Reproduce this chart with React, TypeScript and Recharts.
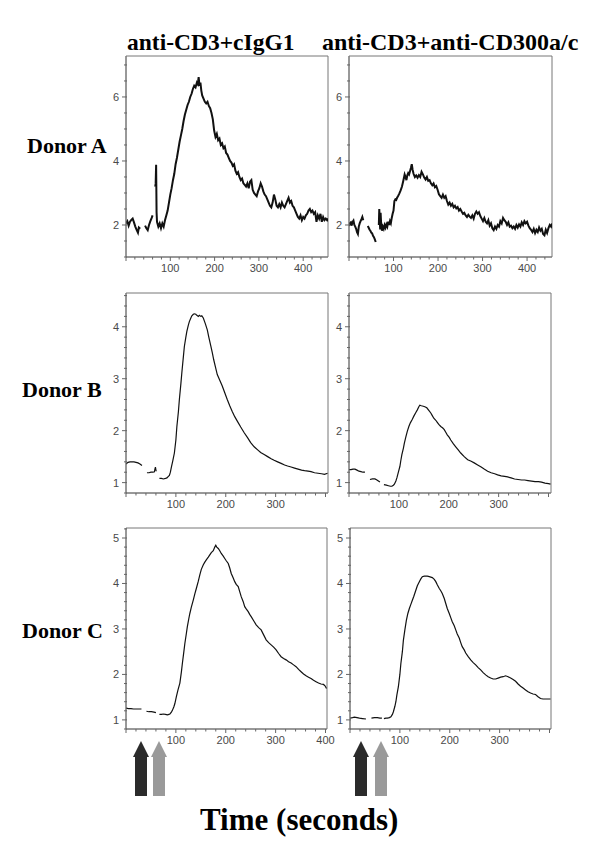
import React from "react";
import { LineChart, Line, XAxis, YAxis, ReferenceArea } from "recharts";

type Pt = [number, number | null];

// ---------- data (time in seconds, ratio values) ----------
const donorALeft: Pt[] = [
  [0,2.05],[3,2.12],[6,1.98],[9,2.1],[12,2.16],[15,2.2],[18,2.08],[21,1.95],[24,1.85],[27,1.76],[29,1.92],[32,1.88],[33,null],
  [43,1.98],[46,1.9],[49,1.84],[52,2.0],[55,2.12],[58,2.22],[60,2.3],[61,null],
  [66,3.2],[67,3.3],[68,3.88],[69,2.4],[70,2.1],[73,1.95],[76,2.05],[79,1.9],[82,2.05],[85,1.95],[88,2.15],[91,2.3],[94,2.45],[97,2.7],[100,2.95],[103,3.15],[106,3.4],[109,3.6],[112,3.9],[115,4.1],[118,4.35],[121,4.6],[124,4.8],[127,5.0],[130,5.25],[133,5.45],[136,5.6],[139,5.75],[142,5.85],[145,6.0],[148,6.1],[151,6.25],[154,6.35],[157,6.3],[160,6.45],[162,6.4],[164,6.62],[166,6.35],[168,6.45],[170,6.2],[172,6.05],[175,5.95],[178,5.85],[181,5.8],[184,5.85],[187,5.72],[190,5.65],[193,5.5],[196,5.3],[199,4.95],[202,4.75],[205,4.85],[208,4.65],[211,4.7],[214,4.5],[217,4.55],[220,4.4],[223,4.45],[226,4.25],[229,4.2],[232,4.1],[235,4.0],[238,3.95],[241,3.85],[244,3.9],[247,3.7],[250,3.6],[253,3.65],[256,3.5],[259,3.4],[262,3.45],[265,3.3],[268,3.25],[271,3.2],[274,3.3],[277,3.15],[280,3.35],[283,3.4],[286,3.1],[289,3.0],[292,2.95],[295,2.9],[298,3.05],[301,3.15],[304,3.3],[307,3.2],[310,3.05],[313,2.95],[316,2.9],[319,2.8],[322,2.7],[325,2.6],[328,2.55],[331,2.7],[334,2.95],[337,2.8],[340,2.6],[343,2.55],[346,2.65],[349,2.55],[352,2.7],[355,2.6],[358,2.55],[361,2.65],[364,2.75],[367,2.85],[370,2.7],[373,2.75],[376,2.6],[379,2.55],[382,2.45],[385,2.35],[388,2.25],[391,2.2],[394,2.3],[397,2.15],[400,2.25],[403,2.2],[406,2.3],[409,2.35],[412,2.45],[415,2.5],[418,2.4],[421,2.45],[424,2.35],[427,2.4],[430,2.1],[433,2.3],[436,2.2],[439,2.35],[442,2.1],[445,2.25],[448,2.15],[451,2.2],[454,2.15],[456,2.2],
];

const donorARight: Pt[] = [
  [0,1.97],[2,2.05],[4,2.08],[6,1.98],[8,2.1],[10,2.14],[12,2.0],[14,1.95],[16,1.88],[18,1.78],[20,1.72],[22,1.95],[24,2.05],[26,2.12],[28,2.18],[30,2.25],[32,2.15],[33,null],
  [42,1.97],[44,1.92],[46,1.86],[48,1.82],[50,1.76],[52,1.74],[54,1.66],[56,1.62],[58,1.55],[60,1.47],[61,null],
  [67,2.0],[68,2.5],[69,2.2],[70,1.86],[71,2.38],[72,2.1],[74,1.82],[76,1.95],[78,1.88],[80,2.0],[82,1.92],[84,2.02],[86,1.95],[88,2.1],[90,2.0],[92,2.12],[94,2.05],[96,2.22],[98,2.35],[100,2.45],[102,2.75],[104,2.8],[106,2.78],[108,2.85],[110,2.9],[113,2.98],[116,3.08],[119,3.2],[122,3.38],[125,3.58],[127,3.5],[129,3.4],[131,3.55],[133,3.62],[135,3.58],[137,3.68],[139,3.78],[141,3.9],[143,3.72],[145,3.6],[148,3.5],[151,3.55],[154,3.48],[157,3.56],[160,3.5],[163,3.66],[166,3.58],[169,3.48],[172,3.42],[175,3.5],[178,3.38],[181,3.4],[184,3.3],[187,3.24],[190,3.3],[193,3.18],[196,3.22],[199,3.1],[202,2.96],[205,2.9],[208,2.85],[211,2.95],[214,2.85],[217,2.9],[220,2.75],[223,2.64],[226,2.7],[229,2.6],[232,2.66],[235,2.55],[238,2.6],[241,2.52],[244,2.56],[247,2.45],[250,2.5],[253,2.42],[256,2.35],[259,2.38],[262,2.3],[265,2.25],[268,2.32],[271,2.26],[274,2.22],[277,2.3],[280,2.2],[283,2.35],[286,2.42],[289,2.35],[292,2.4],[295,2.28],[298,2.2],[301,2.12],[304,2.22],[307,2.1],[310,2.05],[313,2.15],[316,1.98],[319,2.05],[322,1.9],[325,1.84],[328,1.95],[331,1.88],[334,2.0],[337,1.95],[340,2.12],[343,2.05],[346,2.22],[349,2.15],[352,2.1],[355,2.0],[358,2.08],[361,1.95],[364,1.98],[367,1.9],[370,1.95],[373,1.88],[376,2.0],[379,1.92],[382,2.02],[385,1.95],[388,2.08],[391,2.0],[394,2.12],[397,2.05],[400,2.1],[403,1.98],[406,1.9],[409,1.85],[412,1.78],[415,1.88],[418,1.75],[421,1.85],[424,1.78],[427,1.92],[430,1.82],[433,1.88],[436,1.72],[439,1.68],[442,1.85],[445,1.75],[448,1.9],[451,2.0],[454,1.95],[456,2.05],
];

const donorBLeft: Pt[] = [
  [0,1.36],[4,1.39],[8,1.4],[12,1.4],[16,1.4],[20,1.39],[24,1.38],[28,1.36],[32,1.33],[33,null],
  [42,1.19],[46,1.19],[50,1.2],[54,1.2],[57,1.21],[58,1.26],[59,1.3],[60,1.24],[61,1.22],[62,null],
  [67,1.08],[71,1.08],[75,1.07],[79,1.08],[82,1.09],[85,1.12],[87,1.14],[89,1.2],[91,1.3],[94,1.43],[97,1.57],[100,1.82],[102,2.08],[105,2.36],[107,2.6],[110,2.9],[112,3.12],[115,3.42],[117,3.62],[120,3.8],[122,3.91],[125,4.03],[127,4.1],[130,4.17],[132,4.21],[135,4.24],[137,4.25],[140,4.24],[142,4.22],[145,4.2],[147,4.22],[150,4.2],[152,4.21],[155,4.17],[159,4.06],[163,3.94],[166,3.8],[170,3.63],[173,3.5],[176,3.36],[180,3.2],[183,3.08],[188,2.97],[193,2.86],[198,2.73],[203,2.6],[208,2.48],[213,2.37],[218,2.27],[224,2.17],[230,2.07],[237,1.96],[244,1.86],[250,1.77],[257,1.69],[264,1.63],[270,1.58],[277,1.54],[284,1.5],[291,1.46],[297,1.43],[304,1.4],[311,1.37],[318,1.34],[324,1.32],[331,1.3],[338,1.28],[345,1.26],[352,1.24],[358,1.23],[365,1.22],[371,1.21],[378,1.19],[385,1.18],[392,1.17],[398,1.16],[404,1.18],
];

const donorBRight: Pt[] = [
  [0,1.25],[4,1.25],[8,1.26],[12,1.26],[16,1.24],[20,1.22],[24,1.21],[28,1.2],[32,1.2],[33,null],
  [42,1.06],[47,1.07],[52,1.07],[56,1.05],[59,1.03],[62,1.01],[63,null],
  [70,0.96],[75,0.95],[79,0.94],[83,0.93],[86,0.93],[89,0.95],[91,0.97],[94,1.03],[96,1.09],[99,1.2],[102,1.31],[104,1.43],[106,1.54],[109,1.66],[111,1.76],[114,1.88],[117,1.99],[120,2.08],[123,2.15],[127,2.22],[130,2.28],[134,2.35],[137,2.4],[140,2.46],[142,2.49],[145,2.48],[149,2.47],[152,2.46],[156,2.44],[160,2.39],[164,2.34],[167,2.29],[170,2.24],[174,2.2],[177,2.16],[180,2.12],[184,2.08],[188,2.05],[191,2.02],[194,1.97],[197,1.92],[201,1.87],[204,1.82],[209,1.75],[214,1.69],[219,1.63],[224,1.57],[231,1.5],[238,1.44],[245,1.41],[251,1.38],[258,1.34],[265,1.3],[271,1.26],[278,1.22],[285,1.19],[292,1.17],[298,1.15],[305,1.13],[312,1.12],[318,1.11],[325,1.09],[332,1.07],[339,1.06],[346,1.05],[352,1.05],[359,1.04],[366,1.03],[373,1.02],[380,1.02],[386,1.01],[393,0.99],[400,0.98],[404,0.97],
];

const donorCLeft: Pt[] = [
  [0,1.26],[5,1.25],[10,1.25],[15,1.24],[20,1.24],[25,1.24],[31,1.24],[32,null],
  [41,1.19],[46,1.18],[51,1.18],[56,1.17],[60,1.16],[61,null],
  [67,1.12],[71,1.12],[75,1.13],[79,1.12],[83,1.11],[86,1.12],[88,1.13],[91,1.17],[93,1.21],[96,1.29],[98,1.36],[101,1.51],[104,1.65],[108,1.81],[111,2.05],[113,2.24],[116,2.5],[118,2.68],[121,2.9],[123,3.05],[126,3.23],[128,3.34],[131,3.48],[135,3.64],[138,3.77],[141,3.89],[145,4.05],[148,4.19],[151,4.31],[155,4.41],[158,4.47],[161,4.52],[165,4.58],[168,4.63],[171,4.68],[175,4.72],[178,4.8],[180,4.84],[182,4.8],[185,4.77],[188,4.72],[191,4.66],[195,4.6],[198,4.55],[201,4.5],[205,4.44],[208,4.34],[211,4.22],[215,4.12],[218,4.04],[221,3.98],[225,3.93],[228,3.82],[231,3.71],[235,3.6],[238,3.49],[241,3.44],[245,3.38],[248,3.32],[251,3.27],[256,3.18],[261,3.09],[266,3.03],[271,2.98],[276,2.87],[281,2.76],[286,2.7],[291,2.65],[296,2.6],[301,2.54],[306,2.46],[311,2.39],[316,2.35],[321,2.32],[326,2.28],[331,2.25],[336,2.21],[341,2.17],[346,2.11],[351,2.06],[356,2.01],[361,1.97],[366,1.94],[371,1.91],[376,1.87],[381,1.84],[386,1.81],[391,1.79],[396,1.78],[399,1.75],[402,1.69],
];

const donorCRight: Pt[] = [
  [0,1.04],[5,1.05],[9,1.06],[14,1.05],[19,1.04],[25,1.03],[32,1.02],[33,null],
  [43,1.04],[49,1.05],[55,1.05],[60,1.04],[64,1.04],[66,null],
  [68,1.03],[72,1.04],[75,1.04],[79,1.05],[82,1.07],[85,1.12],[87,1.18],[90,1.3],[92,1.4],[94,1.55],[97,1.73],[100,2.0],[102,2.24],[105,2.5],[107,2.75],[110,2.98],[113,3.19],[116,3.34],[119,3.45],[122,3.54],[125,3.63],[128,3.72],[132,3.85],[135,3.95],[139,4.04],[142,4.1],[145,4.15],[149,4.16],[152,4.16],[155,4.16],[159,4.15],[162,4.14],[165,4.13],[169,4.09],[172,4.04],[175,3.97],[179,3.89],[182,3.84],[185,3.78],[189,3.67],[192,3.56],[195,3.45],[199,3.34],[202,3.25],[205,3.16],[209,3.07],[212,2.98],[215,2.89],[219,2.8],[222,2.7],[225,2.61],[229,2.54],[232,2.47],[237,2.39],[242,2.32],[247,2.26],[252,2.21],[257,2.15],[262,2.1],[267,2.04],[272,1.99],[277,1.95],[282,1.92],[287,1.9],[292,1.9],[297,1.92],[302,1.94],[307,1.95],[312,1.97],[317,1.95],[322,1.92],[327,1.89],[332,1.85],[337,1.79],[342,1.74],[347,1.7],[352,1.66],[357,1.62],[362,1.59],[367,1.57],[372,1.56],[377,1.51],[382,1.47],[387,1.46],[392,1.46],[397,1.46],[402,1.46],
];

// tick labels
const xLabelsA = [100, 200, 300, 400];
const xLabelsB = [100, 200, 300];
const xLabelsCLeft = [100, 200, 300, 400];
const xLabelsCRight = [100, 200, 300];
const yLabelsA = [2, 4, 6];
const yLabelsB = [1, 2, 3, 4];
const yLabelsC = [1, 2, 3, 4, 5];

const columnTitles = ["anti-CD3+cIgG1", "anti-CD3+anti-CD300a/c"];
const rowTitles = ["Donor A", "Donor B", "Donor C"];
const axisTitle = "Time (seconds)";

// ---------- helpers ----------
const SERIF = '"Liberation Serif", "Times New Roman", Times, serif';
const SANS = '"Liberation Sans", Arial, Helvetica, sans-serif';

function range(start: number, end: number, step: number): number[] {
  const out: number[] = [];
  const n = Math.floor((end - start) / step + 1e-9);
  for (let i = 0; i <= n; i++) out.push(Math.round((start + i * step) * 1000) / 1000);
  return out;
}

const near = (a: number, b: number) => Math.abs(a - b) < 1e-6;

type PanelProps = {
  left: number;
  top: number;
  w: number;
  h: number;
  points: Pt[];
  xMax: number;
  yMin: number;
  yMax: number;
  yStep: number;
  yMajorStep: number;
  yLabels: number[];
  xLabels: number[];
  sw: number;
};

function Panel(p: PanelProps) {
  const rows = p.points.map(([t, v]) => ({ t, v }));
  const xTicks = range(0, p.xMax, 20);
  const yTicks = range(Math.ceil(p.yMin / p.yStep - 1e-9) * p.yStep, p.yMax, p.yStep);

  const renderX = (props: any) => {
    const { x, y, payload } = props;
    const val = payload.value as number;
    const major = near(val % 100, 0);
    const labeled = p.xLabels.some((l) => near(l, val));
    return (
      <g>
        <line x1={x} x2={x} y1={y} y2={y + (major ? 4 : 2.5)} stroke="#666" strokeWidth={1} />
        {labeled && (
          <text x={x} y={y + 15} textAnchor="middle" fontSize={11} fontFamily={SANS} fill="#4a4a4a" stroke="none">
            {val}
          </text>
        )}
      </g>
    );
  };

  const renderY = (props: any) => {
    const { x, y, payload } = props;
    const val = payload.value as number;
    const r = val / p.yMajorStep;
    const major = near(r, Math.round(r));
    const labeled = p.yLabels.some((l) => near(l, val));
    return (
      <g>
        <line x1={x - (major || labeled ? 4 : 2)} x2={x + 1} y1={y} y2={y} stroke="#666" strokeWidth={1} />
        {labeled && (
          <text x={x - 7} y={y + 4} textAnchor="end" fontSize={11} fontFamily={SANS} fill="#4a4a4a" stroke="none">
            {val}
          </text>
        )}
      </g>
    );
  };

  const chartW = 30 + p.w + 8;
  const chartH = 2 + p.h + 25;
  return (
    <div style={{ position: "absolute", left: p.left - 30, top: p.top - 2 }}>
      <LineChart width={chartW} height={chartH} data={rows} margin={{ top: 2, right: 8, left: 0, bottom: 0 }}>
        <XAxis
          dataKey="t"
          type="number"
          domain={[0, p.xMax]}
          allowDataOverflow
          ticks={xTicks}
          interval={0}
          tickSize={0}
          tickMargin={0}
          tickLine={false}
          axisLine={{ stroke: "#777" }}
          tick={renderX}
          height={25}
        />
        <YAxis
          type="number"
          domain={[p.yMin, p.yMax]}
          allowDataOverflow
          ticks={yTicks}
          interval={0}
          tickSize={0}
          tickMargin={0}
          tickLine={false}
          axisLine={{ stroke: "#777" }}
          tick={renderY}
          width={30}
        />
        <ReferenceArea x1={0} x2={p.xMax} y1={p.yMin} y2={p.yMax} fill="none" stroke="#777" strokeWidth={1} />
        <Line
          type="linear"
          dataKey="v"
          stroke="#111"
          strokeWidth={p.sw}
          dot={false}
          isAnimationActive={false}
          connectNulls={false}
        />
      </LineChart>
    </div>
  );
}

function Arrow({ cx, color }: { cx: number; color: string }) {
  const tip = 741;
  const base = 757;
  const bottom = 796;
  const hw = 8;
  const sw = 6;
  const d = `M ${cx} ${tip} L ${cx + hw} ${base} L ${cx + sw} ${base} L ${cx + sw} ${bottom} L ${cx - sw} ${bottom} L ${cx - sw} ${base} L ${cx - hw} ${base} Z`;
  return <path d={d} fill={color} />;
}

export default function App() {
  const L = 126;
  const R = 349;
  const PW = 202;
  return (
    <div style={{ position: "absolute", left: 0, top: 0, width: 600, height: 857, background: "#fff", overflow: "hidden" }}>
      <Panel left={L} top={56} w={PW} h={201} points={donorALeft} xMax={456} yMin={1} yMax={7.28} yStep={0.5} yMajorStep={2} yLabels={yLabelsA} xLabels={xLabelsA} sw={2} />
      <Panel left={R} top={56} w={PW + 1} h={201} points={donorARight} xMax={456} yMin={1} yMax={7.28} yStep={0.5} yMajorStep={2} yLabels={yLabelsA} xLabels={xLabelsA} sw={2} />
      <Panel left={L} top={293} w={PW} h={200} points={donorBLeft} xMax={405} yMin={0.8} yMax={4.65} yStep={0.2} yMajorStep={1} yLabels={yLabelsB} xLabels={xLabelsB} sw={1.2} />
      <Panel left={R} top={293} w={PW} h={200} points={donorBRight} xMax={405} yMin={0.8} yMax={4.65} yStep={0.2} yMajorStep={1} yLabels={yLabelsB} xLabels={xLabelsB} sw={1.2} />
      <Panel left={L} top={528} w={PW - 1} h={201} points={donorCLeft} xMax={403} yMin={0.8} yMax={5.22} yStep={0.2} yMajorStep={1} yLabels={yLabelsC} xLabels={xLabelsCLeft} sw={1.2} />
      <Panel left={R + 1} top={528} w={PW - 1} h={201} points={donorCRight} xMax={403} yMin={0.8} yMax={5.22} yStep={0.2} yMajorStep={1} yLabels={yLabelsC} xLabels={xLabelsCRight} sw={1.2} />

      <svg width={600} height={857} style={{ position: "absolute", left: 0, top: 0, pointerEvents: "none" }}>
        <g fontFamily={SERIF} fontWeight="bold" fill="#000">
          <text x={127} y={50} fontSize={23.5}>{columnTitles[0]}</text>
          <text x={322} y={50} fontSize={24}>{columnTitles[1]}</text>
          <text x={27} y={153} fontSize={22}>{rowTitles[0]}</text>
          <text x={22} y={397} fontSize={22}>{rowTitles[1]}</text>
          <text x={22} y={638} fontSize={22}>{rowTitles[2]}</text>
          <text x={200} y={830} fontSize={31}>{axisTitle}</text>
        </g>
        <Arrow cx={141} color="#2b2b2b" />
        <Arrow cx={159} color="#9a9a9a" />
        <Arrow cx={361} color="#2b2b2b" />
        <Arrow cx={381} color="#9a9a9a" />
      </svg>
    </div>
  );
}
